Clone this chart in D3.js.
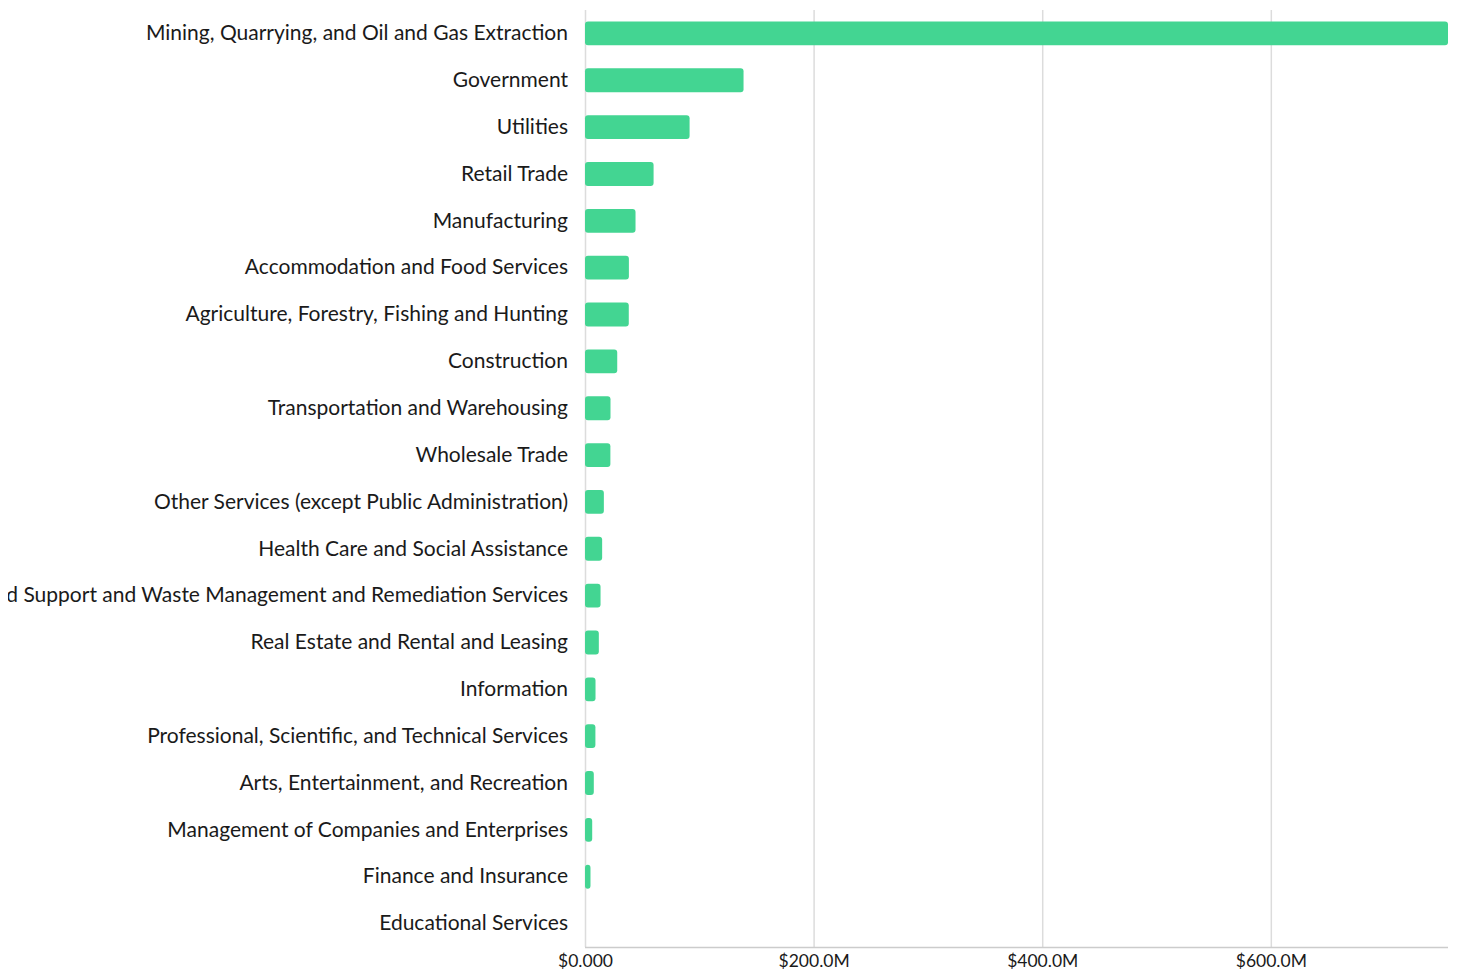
<!DOCTYPE html>
<html>
<head>
<meta charset="utf-8">
<script src="https://cdn.jsdelivr.net/npm/d3@7"></script>
<style>
  html, body { margin: 0; padding: 0; background: #fff; }
  #wrap { position: absolute; left: 8px; top: 0; width: 1449px; height: 973px; overflow: hidden; }
  text { font-family: Lato, "Open Sans", sans-serif; fill: #1a1a1a; }
</style>
</head>
<body>
<div id="wrap"></div>
<script>
const categories = [
  "Mining, Quarrying, and Oil and Gas Extraction",
  "Government",
  "Utilities",
  "Retail Trade",
  "Manufacturing",
  "Accommodation and Food Services",
  "Agriculture, Forestry, Fishing and Hunting",
  "Construction",
  "Transportation and Warehousing",
  "Wholesale Trade",
  "Other Services (except Public Administration)",
  "Health Care and Social Assistance",
  "Administrative and Support and Waste Management and Remediation Services",
  "Real Estate and Rental and Leasing",
  "Information",
  "Professional, Scientific, and Technical Services",
  "Arts, Entertainment, and Recreation",
  "Management of Companies and Enterprises",
  "Finance and Insurance",
  "Educational Services"
];
const values = [755e6, 138.7e6, 91.5e6, 60e6, 44.2e6, 38.4e6, 38.3e6, 28.2e6, 22.3e6, 22.2e6,
  16.5e6, 15e6, 13.6e6, 12.1e6, 9.2e6, 9.1e6, 7.7e6, 6.3e6, 4.8e6, 0];
const tickValues = [0, 200e6, 400e6, 600e6];

const W = 1449, H = 973;
const margin = {top: 10, right: 9, bottom: 26, left: 577};
const iw = W - margin.left - margin.right;
const ih = H - margin.top - margin.bottom;

const svg = d3.select("#wrap").append("svg").attr("width", W).attr("height", H);
const g = svg.append("g").attr("transform", `translate(${margin.left},${margin.top})`);

const x = d3.scaleLinear().domain([0, d3.max(values)]).range([0, iw]);
const y = d3.scaleBand().domain(categories).range([0, ih]).paddingInner(0.49).paddingOuter(0.245);

// gridlines
g.append("g").selectAll("line").data(tickValues).join("line")
  .attr("x1", d => x(d) + 0.5).attr("x2", d => x(d) + 0.5)
  .attr("y1", 0).attr("y2", ih)
  .attr("stroke", "#dcdcdc").attr("stroke-width", 1.5);

// bottom axis
const xAxis = d3.axisBottom(x).tickValues(tickValues).tickFormat(d3.format("$.4s")).tickSize(0).tickPadding(8);
const ax = g.append("g").attr("transform", `translate(0,${ih})`).call(xAxis);
ax.select(".domain").attr("stroke", "#cccccc").attr("stroke-width", 1.5).attr("d", `M0,0.5H${iw}`);
ax.selectAll("text").style("font-family", "Lato, sans-serif").style("font-size", "17.5px").attr("fill", "#1a1a1a");

// bars
g.append("g").selectAll("rect").data(values).join("rect")
  .attr("x", 0)
  .attr("y", (d, i) => y(categories[i]))
  .attr("width", d => x(d))
  .attr("height", y.bandwidth())
  .attr("rx", 3).attr("ry", 3)
  .attr("fill", "#43d592");

// category labels
const yAxis = d3.axisLeft(y).tickSize(0).tickPadding(17);
const ay = g.append("g").call(yAxis);
ay.select(".domain").remove();
ay.selectAll("text").style("font-family", "Lato, sans-serif").style("font-size", "21px").attr("fill", "#1a1a1a");
</script>
</body>
</html>
